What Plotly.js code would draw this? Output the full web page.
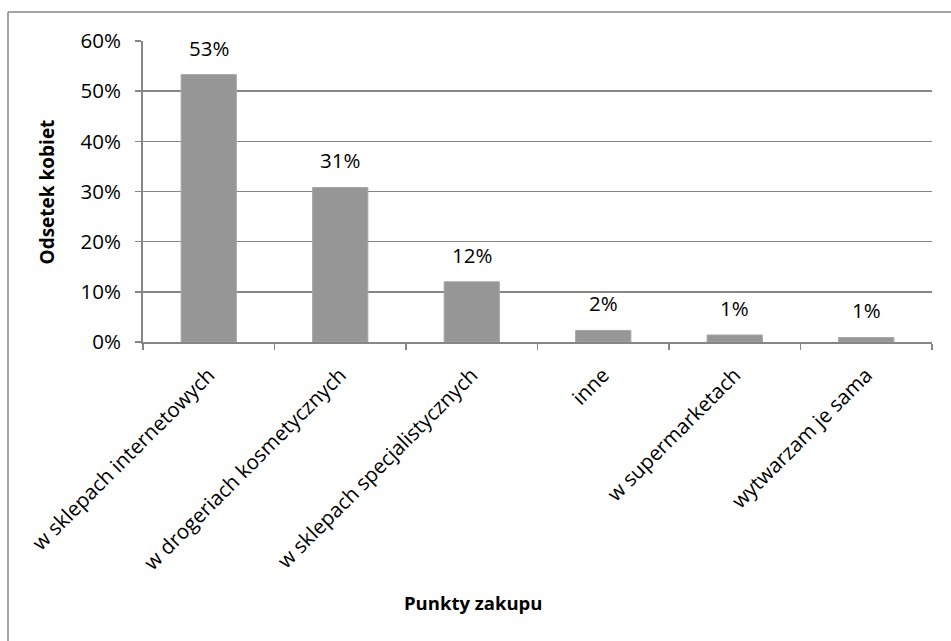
<!DOCTYPE html>
<html>
<head>
<meta charset="utf-8">
<script src="https://cdn.plot.ly/plotly-3.0.1.min.js"></script>
<style>
  html, body { margin: 0; padding: 0; background: #ffffff; }
  #chart { width: 951px; height: 641px; }
</style>
</head>
<body>
<div id="chart"></div>
<script>
// Where women buy their cosmetics (share of respondents)
const categories = [
  'w sklepach internetowych',
  'w drogeriach kosmetycznych',
  'w sklepach specjalistycznych',
  'inne',
  'w supermarketach',
  'wytwarzam je sama'
];
const shares = [0.533, 0.308, 0.120, 0.023, 0.014, 0.009];
const yTickValues = [0, 0.1, 0.2, 0.3, 0.4, 0.5, 0.6];
const yTickLabels = ['0%', '10%', '20%', '30%', '40%', '50%', '60%'];

const FONT = '"Open Sans", Lato, "Liberation Sans", sans-serif';
const FS = 20.5;
const AXIS_GREY = '#868686';

const barTrace = {
  type: 'bar',
  x: categories,
  y: shares,
  marker: { color: '#969696', line: { color: '#a6a6a6', width: 1 } },
  hoverinfo: 'skip'
};

// Value labels floating above each bar
const valueLabels = categories.map((c, i) => ({
  x: c,
  y: shares[i],
  xref: 'x',
  yref: 'y',
  text: Math.round(shares[i] * 100) + '%',
  showarrow: false,
  yanchor: 'bottom',
  yshift: 11,
  font: { family: FONT, size: FS, color: '#000000' }
}));

const layout = {
  width: 951,
  height: 641,
  margin: { l: 143, r: 19, t: 41, b: 299, pad: 0 },
  paper_bgcolor: '#ffffff',
  plot_bgcolor: '#ffffff',
  showlegend: false,
  bargap: 0.58,
  font: { family: FONT, size: FS, color: '#000000' },
  xaxis: {
    type: 'category',
    tickangle: -45,
    tickson: 'boundaries',
    ticks: 'outside',
    ticklen: 6,
    tickcolor: AXIS_GREY,
    tickwidth: 1.5,
    ticklabelstandoff: 11,
    showline: true,
    linecolor: AXIS_GREY,
    linewidth: 2,
    showgrid: false,
    zeroline: false,
    tickfont: { family: FONT, size: FS, color: '#000000' },
    fixedrange: true
  },
  yaxis: {
    range: [0, 0.6],
    tickvals: yTickValues,
    ticktext: yTickLabels,
    ticks: 'outside',
    ticklen: 6,
    tickcolor: AXIS_GREY,
    tickwidth: 1.5,
    ticklabelstandoff: 10,
    showline: true,
    linecolor: AXIS_GREY,
    linewidth: 2,
    showgrid: true,
    gridcolor: AXIS_GREY,
    gridwidth: 1.5,
    zeroline: false,
    tickfont: { family: FONT, size: FS, color: '#000000' },
    fixedrange: true
  },
  annotations: valueLabels.concat([
    {
      text: '<b>Punkty zakupu</b>',
      xref: 'paper', yref: 'paper',
      x: 0.4183, y: -0.867,
      xanchor: 'center', yanchor: 'middle',
      showarrow: false,
      font: { family: FONT, size: 18.5, color: '#000000' }
    },
    {
      text: '<b>Odsetek kobiet</b>',
      xref: 'paper', yref: 'paper',
      x: -0.1217, y: 0.5,
      xanchor: 'center', yanchor: 'middle',
      textangle: -90,
      showarrow: false,
      font: { family: FONT, size: 19, color: '#000000' }
    }
  ]),
  shapes: [
    // outer chart frame (top and left edges fall inside the page)
    { type: 'line', xref: 'paper', yref: 'paper', x0: -0.1711, x1: 1.2, y0: 1.0963, y1: 1.0963,
      line: { color: AXIS_GREY, width: 1.5 } },
    { type: 'line', xref: 'paper', yref: 'paper', x0: -0.1711, x1: -0.1711, y0: 1.0963, y1: -1.2,
      line: { color: AXIS_GREY, width: 1.5 } }
  ]
};

Plotly.newPlot('chart', [barTrace], layout, { displayModeBar: false, staticPlot: true });
</script>
</body>
</html>
